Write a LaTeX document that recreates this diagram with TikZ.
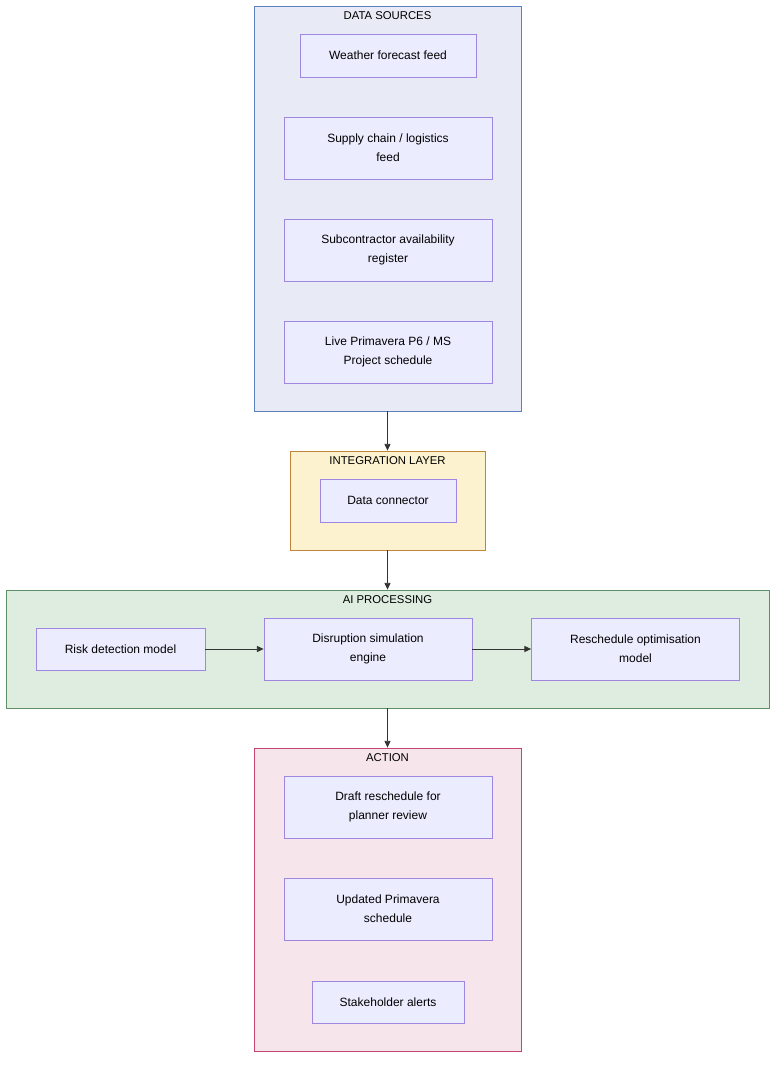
\documentclass[tikz,border=0pt]{standalone}
\usepackage{fontspec}
\setmainfont{Liberation Sans}
\usetikzlibrary{arrows.meta,positioning}
\definecolor{nodefill}{HTML}{ECECFF}
\definecolor{nodeline}{HTML}{9F86E0}
\definecolor{srcfill}{HTML}{E8EBF6}
\definecolor{srcline}{HTML}{5B7FBF}
\definecolor{intfill}{HTML}{FCF2D0}
\definecolor{intline}{HTML}{C0843A}
\definecolor{aifill}{HTML}{DEEDE0}
\definecolor{ailine}{HTML}{5F9068}
\definecolor{actfill}{HTML}{F6E6EC}
\definecolor{actline}{HTML}{C8466E}
\definecolor{arrowgray}{HTML}{333333}

\begin{document}
\begin{tikzpicture}[
        x=0.75pt, y=-0.75pt,
        every node/.style={font=\fontsize{9}{14.2}\selectfont, align=center, inner sep=0pt},
        box/.style={draw=nodeline, fill=nodefill, line width=0.6pt},
        wide/.style={box, minimum width=156pt, minimum height=46.5pt},
        group/.style={draw=#1line, fill=#1fill, line width=0.6pt},
        title/.style={font=\fontsize{8.5}{10}\selectfont},
        flow/.style={draw=arrowgray, line width=0.6pt, -{Triangle[length=5pt,width=4.5pt]}}
    ]
    \useasboundingbox (0,0) rectangle (784,1070);

    % Groups
    \node[group=src, minimum width=200.25pt, minimum height=303.75pt] (sources) at (387.5,208.5) {};
    \node[title] at (387.5,16) {DATA SOURCES};
    \node[group=int, minimum width=146.25pt, minimum height=74.25pt] (integration) at (387.5,500.5) {};
    \node[title] at (387.5,461) {INTEGRATION LAYER};
    \node[group=ai, minimum width=572.25pt, minimum height=88.5pt] (processing) at (387.5,649) {};
    \node[title] at (387.5,600) {AI PROCESSING};
    \node[group=act, minimum width=200.25pt, minimum height=227.25pt] (action) at (387.5,899.5) {};
    \node[title] at (387.5,758) {ACTION};

    % Data sources
    \node[box, minimum width=132pt, minimum height=32.25pt] (weather) at (388,55.5) {Weather forecast feed};
    \node[wide] (supply) at (388,148) {Supply chain / logistics\\feed};
    \node[wide] (subcon) at (388,250) {Subcontractor availability\\register};
    \node[wide] (live) at (388,352) {Live Primavera P6 / MS\\Project schedule};

    % Integration
    \node[box, minimum width=102pt, minimum height=32.25pt] (connector) at (388,500.5) {Data connector};

    % Processing
    \node[box, minimum width=126.75pt, minimum height=31.5pt] (risk) at (120.5,649) {Risk detection model};
    \node[wide] (disruption) at (368,649) {Disruption simulation\\engine};
    \node[wide] (reschedule) at (635.5,649) {Reschedule optimisation\\model};

    % Action
    \node[wide] (draft) at (388,807) {Draft reschedule for\\planner review};
    \node[wide] (updated) at (388,909) {Updated Primavera\\schedule};
    \node[box, minimum width=114pt, minimum height=31.5pt] (alerts) at (388,1002) {Stakeholder alerts};

    % Edges
    \draw[flow] (sources) -- (integration);
    \draw[flow] (integration) -- (processing);
    \draw[flow] (processing) -- (action);
    \draw[flow] (risk) -- (disruption);
    \draw[flow] (disruption) -- (reschedule);
\end{tikzpicture}
\end{document}
